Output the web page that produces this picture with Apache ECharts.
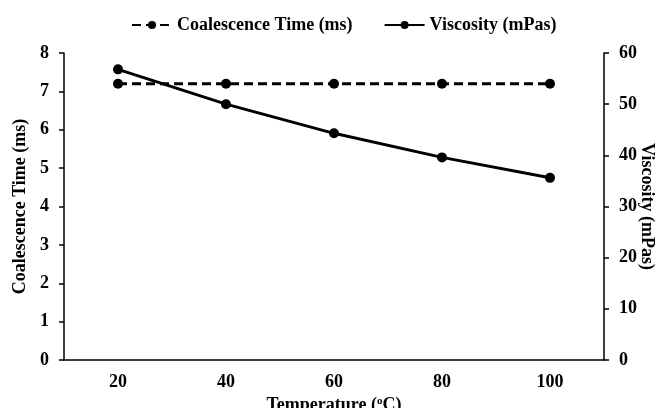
<!DOCTYPE html>
<html>
<head>
<meta charset="utf-8">
<script src="https://cdn.jsdelivr.net/npm/echarts@6/dist/echarts.min.js"></script>
<style>
  html, body { margin: 0; padding: 0; background: #fff; }
  #main { width: 657px; height: 408px; }
</style>
</head>
<body>
<div id="main"></div>
<script>
var temperature = ['20', '40', '60', '80', '100'];
var coalescenceTime = [7.2, 7.2, 7.2, 7.2, 7.2];
var viscosity = [56.8, 50.0, 44.3, 39.6, 35.6];

var font = 'Liberation Serif';

// 基于准备好的dom，初始化echarts实例
var myChart = echarts.init(document.getElementById('main'));

var option = {
    backgroundColor: '#fff',
    textStyle: { fontFamily: font },
    legend: {
        top: 11,
        left: 126,
        itemWidth: 40,
        itemHeight: 10,
        itemGap: 31,
        textStyle: { fontFamily: font, fontWeight: 'bold', fontSize: 18, color: '#000' },
        data: ['Coalescence Time (ms)', 'Viscosity (mPas)']
    },
    grid: { left: 64, right: 53, top: 53, bottom: 48, outerBoundsMode: 'none', containLabel: false },
    xAxis: {
        type: 'category',
        data: temperature,
        name: 'Temperature ({sup|o}C)',
        nameLocation: 'middle',
        nameGap: 36,
        nameMoveOverlap: false,
        nameTextStyle: {
            fontFamily: font, fontWeight: 'bold', fontSize: 18, color: '#000',
            rich: { sup: { fontFamily: font, fontWeight: 'bold', fontSize: 11, color: '#000', verticalAlign: 'top', padding: [0, 0, 7, 0] } }
        },
        axisLine: { lineStyle: { color: '#000', width: 1.5 } },
        axisTick: { alignWithLabel: true, inside: true, length: 5, lineStyle: { color: '#000', width: 1.5 } },
        axisLabel: { fontFamily: font, fontWeight: 'bold', fontSize: 18, color: '#000', margin: 13 },
        splitLine: { show: false }
    },
    yAxis: [
        {
            type: 'value',
            min: 0, max: 8, interval: 1,
            name: 'Coalescence Time (ms)',
            nameLocation: 'middle',
            nameGap: 35,
            nameMoveOverlap: false,
            nameTextStyle: { fontFamily: font, fontWeight: 'bold', fontSize: 18, color: '#000' },
            axisLine: { show: true, lineStyle: { color: '#000', width: 1.5 } },
            axisTick: { show: true, length: 5, lineStyle: { color: '#000', width: 1.5 } },
            axisLabel: { fontFamily: font, fontWeight: 'bold', fontSize: 18, color: '#000', margin: 15 },
            splitLine: { show: false }
        },
        {
            type: 'value',
            min: 0, max: 60, interval: 10,
            name: 'Viscosity (mPas)',
            nameLocation: 'middle',
            nameGap: 34,
            nameRotate: -90,
            nameMoveOverlap: false,
            nameTextStyle: { fontFamily: font, fontWeight: 'bold', fontSize: 18, color: '#000' },
            axisLine: { show: true, lineStyle: { color: '#000', width: 1.5 } },
            axisTick: { show: true, length: 5, lineStyle: { color: '#000', width: 1.5 } },
            axisLabel: { fontFamily: font, fontWeight: 'bold', fontSize: 18, color: '#000', margin: 15 },
            splitLine: { show: false }
        }
    ],
    series: [
        {
            name: 'Coalescence Time (ms)',
            type: 'line',
            yAxisIndex: 0,
            data: coalescenceTime,
            symbol: 'circle',
            symbolSize: 10,
            itemStyle: { color: '#000' },
            lineStyle: { color: '#000', width: 3, type: [9, 5] }
        },
        {
            name: 'Viscosity (mPas)',
            type: 'line',
            yAxisIndex: 1,
            data: viscosity,
            symbol: 'circle',
            symbolSize: 10,
            itemStyle: { color: '#000' },
            lineStyle: { color: '#000', width: 3 }
        }
    ]
};

myChart.setOption(option);
</script>
</body>
</html>
